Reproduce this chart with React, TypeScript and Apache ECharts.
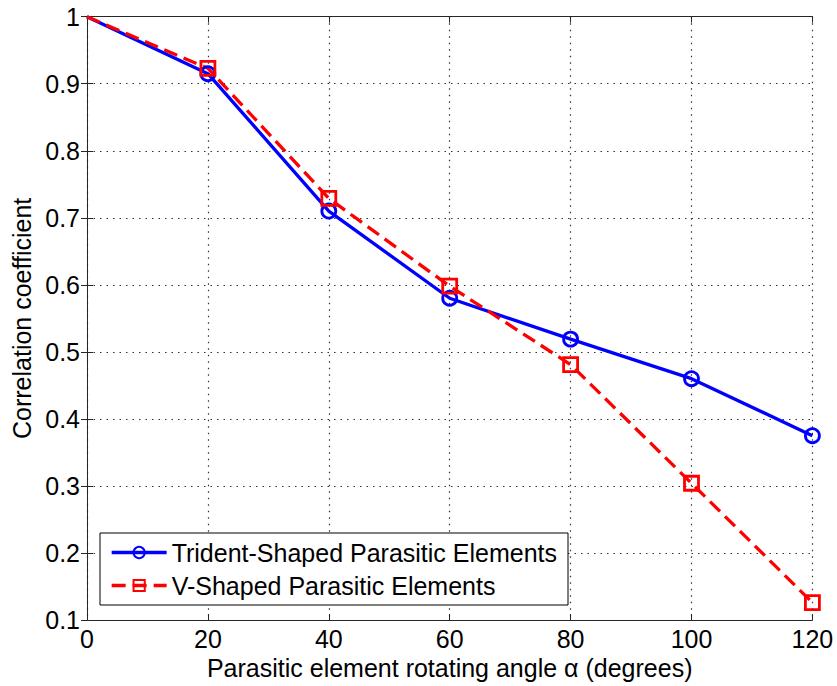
import React, { useEffect, useRef } from "react";
import * as echarts from "echarts";

const angles = [0, 20, 40, 60, 80, 100, 120];
const tridentValues = [1, 0.915, 0.71, 0.58, 0.519, 0.46, 0.375];
const vShapedValues = [1, 0.923, 0.729, 0.598, 0.481, 0.304, 0.126];
const seriesNames = ["Trident-Shaped Parasitic Elements", "V-Shaped Parasitic Elements"];
const xTitle = "Parasitic element rotating angle \u03b1 (degrees)";
const yTitle = "Correlation coefficient";

const FONT = '"Liberation Sans", Arial, Helvetica, sans-serif';

export default function App() {
  const ref = useRef<HTMLDivElement>(null);
  useEffect(() => {
    if (!ref.current) return;
    const chart = echarts.init(ref.current, undefined, { renderer: "svg" });
    const mk = (vals: number[]) =>
      angles.map((a, i) => (i === 0 ? { value: [a, vals[i]], symbol: "none" } : { value: [a, vals[i]] }));
    const axisLine = { show: true, lineStyle: { color: "#262626", width: 1 } };
    const gridLine = { show: true, lineStyle: { color: "#333", width: 1.2, type: [1.5, 5] as any } };
    const option: any = {
      animation: false,
      backgroundColor: "#fff",
      textStyle: { fontFamily: FONT },
      grid: { left: 87, right: 24.6, top: 16.7, bottom: 66, containLabel: false },
      xAxis: [
        {
          type: "value",
          min: 0,
          max: 120,
          interval: 20,
          name: xTitle,
          nameLocation: "middle",
          nameGap: 33,
          nameTextStyle: { fontSize: 25, color: "#000", fontFamily: FONT },
          axisLine,
          axisTick: { show: true, inside: true, length: 6, lineStyle: { color: "#262626" } },
          axisLabel: { fontSize: 25, color: "#000", margin: 6, fontFamily: FONT },
          splitLine: gridLine,
        },
        {
          type: "value",
          position: "top",
          min: 0,
          max: 120,
          interval: 20,
          axisLine,
          axisTick: { show: true, inside: true, length: 6, lineStyle: { color: "#262626" } },
          axisLabel: { show: false },
          splitLine: { show: false },
        },
      ],
      yAxis: [
        {
          type: "value",
          min: 0.1,
          max: 1,
          interval: 0.1,
          name: yTitle,
          nameLocation: "middle",
          nameGap: 52,
          nameRotate: 90,
          nameTextStyle: { fontSize: 25, color: "#000", fontFamily: FONT },
          axisLine,
          axisTick: { show: true, inside: true, length: 6, lineStyle: { color: "#262626" } },
          axisLabel: {
            fontSize: 25,
            color: "#000",
            margin: 7,
            fontFamily: FONT,
            formatter: (v: number) => (Math.abs(v - 1) < 1e-9 ? "1" : v.toFixed(1)),
          },
          splitLine: gridLine,
        },
        {
          type: "value",
          position: "right",
          min: 0.1,
          max: 1,
          interval: 0.1,
          axisLine,
          axisTick: { show: true, inside: true, length: 6, lineStyle: { color: "#262626" } },
          axisLabel: { show: false },
          splitLine: { show: false },
        },
      ],
      legend: {
        orient: "vertical",
        left: 100,
        top: 533,
        padding: [7, 11, 7, 10],
        borderColor: "#000",
        borderWidth: 1,
        backgroundColor: "#fff",
        itemWidth: 55,
        itemHeight: 14,
        itemGap: 8,
        lineStyle: { width: 3.3 },
        textStyle: { fontSize: 25, color: "#000", fontFamily: FONT },
        data: seriesNames,
      },
      series: [
        {
          name: seriesNames[0],
          type: "line",
          data: mk(tridentValues),
          symbol: "circle",
          symbolSize: 14,
          showAllSymbol: true,
          itemStyle: { color: "rgba(0,0,0,0)", borderColor: "#0000ff", borderWidth: 2.8 },
          lineStyle: { color: "#0000ff", width: 3.3 },
        },
        {
          name: seriesNames[1],
          type: "line",
          data: mk(vShapedValues),
          symbol: "rect",
          symbolSize: 14,
          showAllSymbol: true,
          itemStyle: { color: "rgba(0,0,0,0)", borderColor: "#ff0000", borderWidth: 2.8 },
          lineStyle: { color: "#ff0000", width: 3.3, type: [14, 7] },
        },
      ],
    };
    chart.setOption(option);
    return () => chart.dispose();
  }, []);
  return (
    <div
      ref={ref}
      style={{ position: "fixed", left: 0, top: 0, width: 837, height: 686, background: "#fff" }}
    />
  );
}
